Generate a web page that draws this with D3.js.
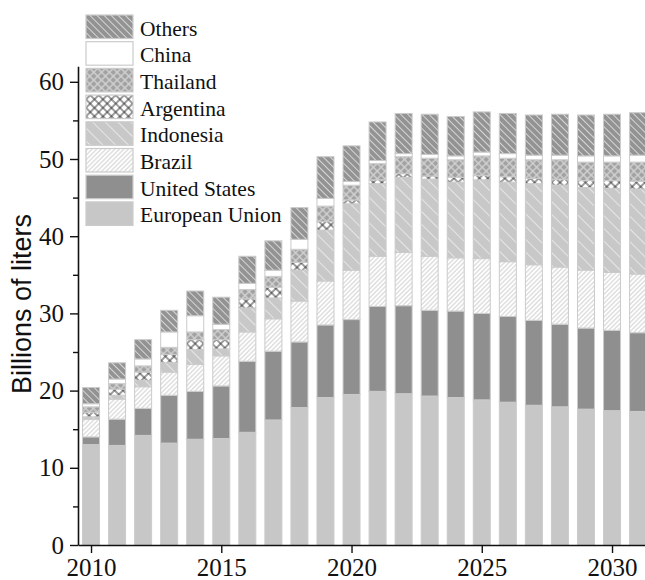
<!DOCTYPE html>
<html>
<head>
<meta charset="utf-8">
<script src="https://cdn.jsdelivr.net/npm/d3@7"></script>
<style>
  html, body { margin: 0; padding: 0; background: #fff; }
  svg { display: block; }
</style>
</head>
<body>
<svg id="chart" width="645" height="580"></svg>
<script>
// Biodiesel production by region, billions of liters
const years = [2010, 2011, 2012, 2013, 2014, 2015, 2016, 2017, 2018, 2019, 2020,
               2021, 2022, 2023, 2024, 2025, 2026, 2027, 2028, 2029, 2030, 2031];
const europeanUnion = [13.0, 12.9, 14.2, 13.2, 13.7, 13.8, 14.6, 16.2, 17.8, 19.1, 19.5,
                       19.9, 19.6, 19.3, 19.1, 18.8, 18.5, 18.1, 17.9, 17.6, 17.4, 17.3];
const unitedStates = [1.0, 3.4, 3.5, 6.2, 6.2, 6.8, 9.2, 8.9, 8.5, 9.4, 9.7,
                      11.0, 11.4, 11.1, 11.2, 11.2, 11.1, 11.0, 10.7, 10.5, 10.4, 10.2];
const brazil = [2.3, 2.6, 2.8, 3.0, 3.5, 3.9, 3.8, 4.2, 5.3, 5.7, 6.4,
                6.5, 6.9, 7.0, 6.9, 7.1, 7.1, 7.2, 7.4, 7.5, 7.5, 7.6];
const indonesia = [0.3, 0.5, 0.8, 1.2, 1.9, 0.9, 3.1, 2.7, 4.0, 6.6, 8.6,
                   9.4, 9.7, 10.0, 9.8, 10.2, 10.3, 10.5, 10.6, 10.7, 10.9, 11.0];
const argentina = [0.6, 0.8, 1.1, 1.1, 1.3, 1.2, 1.2, 1.4, 1.0, 1.1, 0.5,
                   0.5, 0.5, 0.4, 0.6, 0.6, 0.7, 0.7, 0.8, 0.9, 1.0, 1.0];
const thailand = [0.7, 0.7, 0.8, 0.9, 1.0, 1.3, 1.2, 1.4, 1.7, 2.0, 1.9,
                  2.1, 2.2, 2.3, 2.3, 2.5, 2.4, 2.4, 2.5, 2.4, 2.4, 2.5];
const china = [0.4, 0.6, 0.9, 2.0, 2.1, 0.7, 0.8, 0.8, 1.3, 1.0, 0.5,
               0.4, 0.4, 0.5, 0.5, 0.5, 0.6, 0.6, 0.6, 0.8, 0.8, 0.9];
const others = [2.1, 2.1, 2.5, 2.8, 3.2, 3.5, 3.5, 3.8, 4.1, 5.4, 4.6,
                5.0, 5.2, 5.2, 5.1, 5.2, 5.2, 5.2, 5.3, 5.3, 5.4, 5.5];

// stacking order, bottom to top
const seriesNames = ["European Union", "United States", "Brazil", "Indonesia",
                     "Argentina", "Thailand", "China", "Others"];
const seriesValues = [europeanUnion, unitedStates, brazil, indonesia,
                      argentina, thailand, china, others];
const yTicks = [0, 10, 20, 30, 40, 50, 60];
const yMinorTicks = [5, 15, 25, 35, 45, 55];
const xTicks = [2010, 2015, 2020, 2025, 2030];

const svg = d3.select("#chart");
const defs = svg.append("defs");

// hatch / crosshatch fills
function hatch(id, bg, color, size, angle, width, cross) {
  const p = defs.append("pattern")
    .attr("id", id)
    .attr("patternUnits", "userSpaceOnUse")
    .attr("width", size).attr("height", size)
    .attr("patternTransform", `rotate(${angle})`);
  p.append("rect").attr("width", size).attr("height", size).attr("fill", bg);
  p.append("line").attr("x1", size / 2).attr("y1", 0).attr("x2", size / 2).attr("y2", size)
    .attr("stroke", color).attr("stroke-width", width);
  if (cross) {
    p.append("line").attr("x1", 0).attr("y1", size / 2).attr("x2", size).attr("y2", size / 2)
      .attr("stroke", color).attr("stroke-width", width);
  }
}
hatch("p-others", "#939393", "#d6d6d6", 5, -45, 1, false);
hatch("p-indonesia", "#c8c8c8", "#e6e6e6", 9, -45, 1, false);
hatch("p-brazil", "#ffffff", "#cfcfcf", 3.2, 45, 1, false);
hatch("p-thailand", "#a2a2a2", "#d2d2d2", 5.5, 45, 1.4, true);
hatch("p-argentina", "#ffffff", "#222222", 6, 45, 0.9, true);

const fills = {
  "European Union": "#c7c7c7",
  "United States": "#8f8f8f",
  "Brazil": "url(#p-brazil)",
  "Indonesia": "url(#p-indonesia)",
  "Argentina": "url(#p-argentina)",
  "Thailand": "url(#p-thailand)",
  "China": "#ffffff",
  "Others": "url(#p-others)"
};
const edge = "#cbcbcb";

const rows = years.map((yr, i) => {
  const r = { year: yr };
  seriesNames.forEach((n, k) => { r[n] = seriesValues[k][i]; });
  return r;
});
const stacked = d3.stack().keys(seriesNames)(rows);

const x = d3.scaleLinear().domain([2009.5, 2031.5]).range([78, 78 + 22 * 26.05]);
const y = d3.scaleLinear().domain([0, 62]).range([545, 545 - 62 * 7.72]);
const barW = 17;

// bars
const layers = svg.append("g").selectAll("g")
  .data(stacked).join("g")
  .attr("fill", d => fills[d.key]);
layers.selectAll("rect")
  .data(d => d).join("rect")
  .attr("x", d => x(d.data.year) - barW / 2)
  .attr("width", barW)
  .attr("y", d => y(d[1]))
  .attr("height", d => y(d[0]) - y(d[1]))
  .attr("stroke", edge)
  .attr("stroke-width", 1);

// axes
const serif = "'Liberation Serif', 'Times New Roman', serif";
svg.append("g")
  .attr("transform", "translate(78,0)")
  .call(d3.axisLeft(y).tickValues(yTicks).tickFormat(d3.format("d"))
    .tickSize(8).tickSizeOuter(0).tickPadding(6));
svg.append("g")
  .attr("transform", "translate(78,0)")
  .call(d3.axisLeft(y).tickValues(yMinorTicks).tickFormat("")
    .tickSize(5).tickSizeOuter(0))
  .select(".domain").remove();
svg.append("g")
  .attr("transform", "translate(0,545)")
  .call(d3.axisBottom(x).tickValues(xTicks).tickFormat(d3.format("d"))
    .tickSize(8).tickSizeOuter(0).tickPadding(5));

svg.selectAll(".domain").attr("stroke", "#111").attr("stroke-width", 1.6);
svg.selectAll(".tick line").attr("stroke", "#111").attr("stroke-width", 1.4);
svg.selectAll(".tick text")
  .attr("font-family", serif).attr("font-size", 25).attr("fill", "#111");

// y-axis title
svg.append("text")
  .attr("transform", "translate(31,304) rotate(-90)")
  .attr("text-anchor", "middle")
  .attr("font-family", "'Liberation Sans', Arial, sans-serif")
  .attr("font-size", 27)
  .attr("fill", "#111")
  .text("Billions of liters");

// legend, top entry is the top of the stack
const legendNames = seriesNames.slice().reverse();
const legend = svg.append("g").attr("transform", "translate(86,15)");
const item = legend.selectAll("g").data(legendNames).join("g")
  .attr("transform", (d, i) => `translate(0,${i * 26.7})`);
item.append("rect")
  .attr("width", 47).attr("height", 23.5)
  .attr("fill", d => fills[d])
  .attr("stroke", edge).attr("stroke-width", 1.2);
item.append("text")
  .attr("x", 54).attr("y", 20.5)
  .attr("font-family", serif).attr("font-size", 21.5).attr("fill", "#111")
  .text(d => d);
</script>
</body>
</html>
